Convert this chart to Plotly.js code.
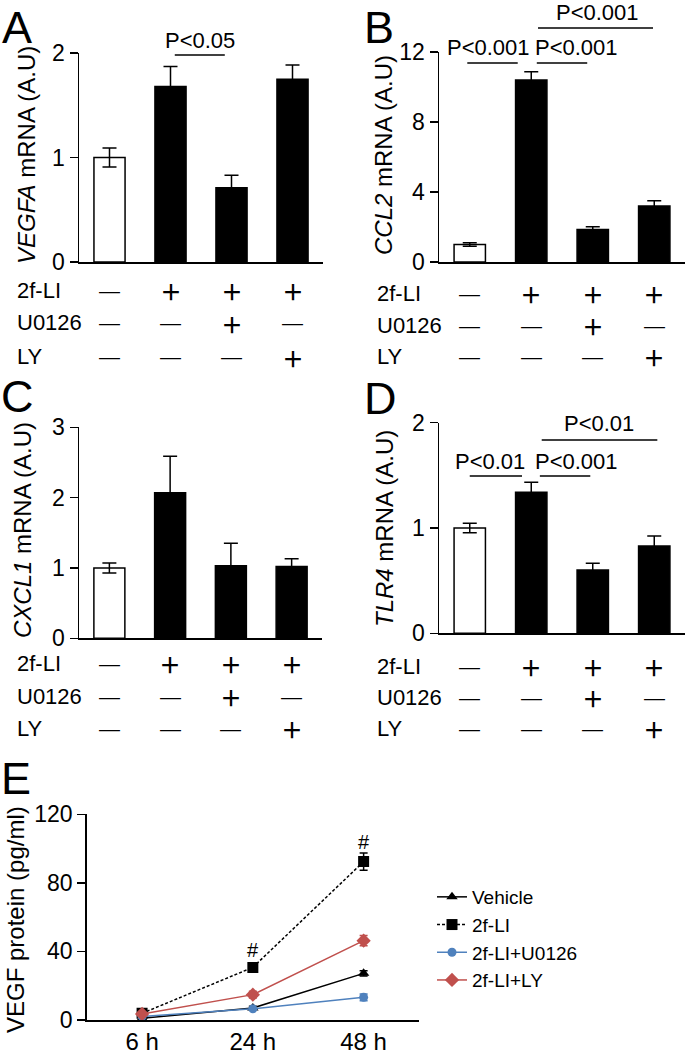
<!DOCTYPE html>
<html>
<head>
<meta charset="utf-8">
<script src="https://cdn.plot.ly/plotly-3.0.1.min.js"></script>
<style>html,body{margin:0;padding:0;background:#fff;}#chart{width:685px;height:1054px;}</style>
</head>
<body>
<div id="chart"></div>
<script>
// ---------- data ----------
const categories = ['Vehicle', '2f-LI', '2f-LI+U0126', '2f-LI+LY'];
const vegfaMean = [1.0, 1.68, 0.71, 1.75];
const vegfaErr  = [0.09, 0.19, 0.12, 0.135];
const ccl2Mean  = [1.0, 10.4, 1.85, 3.2];
const ccl2Err   = [0.1, 0.47, 0.16, 0.3];
const cxcl1Mean = [1.0, 2.07, 1.03, 1.02];
const cxcl1Err  = [0.07, 0.52, 0.32, 0.11];
const tlr4Mean  = [1.0, 1.34, 0.60, 0.83];
const tlr4Err   = [0.045, 0.095, 0.065, 0.095];
const rowNames  = ['2f-LI', 'U0126', 'LY'];
const row2fLI   = ['—', '+', '+', '+'];
const rowU0126  = ['—', '—', '+', '—'];
const rowLY     = ['—', '—', '—', '+'];
const barFill   = ['white', 'black', 'black', 'black'];

const timePoints = ['6 h', '24 h', '48 h'];
const seriesNames = ['Vehicle', '2f-LI', '2f-LI+U0126', '2f-LI+LY'];
const vehicle    = [1.0, 7.0, 27.2];
const vehicleErr = [0.5, 1.0, 1.5];
const lif        = [3.9, 30.7, 92.4];
const lifErr     = [0.8, 1.5, 5.0];
const lifU       = [2.0, 6.5, 13.2];
const lifUErr    = [0.5, 0.8, 2.0];
const lifLY      = [3.5, 14.8, 46.3];
const lifLYErr   = [0.8, 2.0, 3.0];

// ---------- helpers ----------
const W = 685, H = 1054;
const FONT = 'Arial, "Liberation Sans", sans-serif';
const CJK = '"Noto Sans CJK JP", "Noto Sans CJK SC", sans-serif';
const px = v => v / W;
const py = v => 1 - v / H;

function barTrace(mean, err, ax) {
  return {
    type: 'bar', x: categories, y: mean,
    xaxis: 'x' + ax, yaxis: 'y' + ax,
    width: 0.51, showlegend: false, hoverinfo: 'skip',
    marker: {color: barFill, line: {color: 'black', width: 1.5}},
    error_y: {type: 'data', array: err, visible: true, color: 'black', thickness: 1.5, width: 7}
  };
}

function yAx(domain, range, dtick) {
  return {
    domain: domain, range: range, dtick: dtick, tick0: 0,
    showline: true, linecolor: 'black', linewidth: 1.5,
    ticks: 'outside', ticklen: 8, tickwidth: 1.5, tickcolor: 'black',
    showgrid: false, zeroline: false, fixedrange: true,
    tickfont: {family: FONT, size: 23, color: 'black'}
  };
}
function xBarAx(domain, anchor) {
  return {
    domain: domain, anchor: anchor, type: 'category', range: [-0.5, 3.5],
    showline: true, linecolor: 'black', linewidth: 1.5,
    ticks: '', showticklabels: false, showgrid: false, zeroline: false, fixedrange: true
  };
}

const annotations = [];
const shapes = [];

function txt(text, x, y, opts) {
  annotations.push(Object.assign({
    text: text, x: x, y: y, xref: 'paper', yref: 'paper',
    showarrow: false, xanchor: 'center', yanchor: 'middle',
    font: {family: FONT, size: 22, color: 'black'}
  }, opts || {}));
}

function treatmentRows(xref, labelX, rowYs) {
  const rows = [row2fLI, rowU0126, rowLY];
  rows.forEach((signs, r) => {
    txt(rowNames[r], px(labelX), py(rowYs[r]), {xanchor: 'left', font: {family: FONT, size: 22, color: 'black'}});
    signs.forEach((s, i) => {
      const plus = s === '+';
      annotations.push({
        text: plus ? '＋' : '—', x: i, y: py(rowYs[r]), xref: xref, yref: 'paper',
        showarrow: false, xanchor: 'center', yanchor: 'middle',
        font: plus ? {family: CJK, size: 22, color: 'black', weight: 'bold'} : {family: FONT, size: 21, color: 'black'}
      });
    });
  });
}

function bracket(xref, x0, x1, yPx, label, labelX, labelYPx) {
  shapes.push({type: 'line', xref: xref, yref: 'paper', x0: x0, x1: x1, y0: py(yPx), y1: py(yPx),
    line: {color: 'black', width: 1.5}});
  annotations.push({text: label, x: labelX, y: py(labelYPx), xref: xref, yref: 'paper',
    showarrow: false, xanchor: 'center', yanchor: 'middle',
    font: {family: FONT, size: 22, color: 'black'}});
}

function yTitle(text, xPx, yPx) {
  txt(text, px(xPx), py(yPx), {textangle: -90, font: {family: FONT, size: 24, color: 'black'}});
}
function letter(text, xPx, yPx, anchor) {
  txt(text, px(xPx), yPx === 0 ? 1 : py(yPx), {xanchor: 'left', yanchor: anchor || 'middle',
    font: {family: FONT, size: 45, color: 'black'}});
}

// ---------- traces ----------
const traces = [
  barTrace(vegfaMean, vegfaErr, ''),
  barTrace(ccl2Mean, ccl2Err, '2'),
  barTrace(cxcl1Mean, cxcl1Err, '3'),
  barTrace(tlr4Mean, tlr4Err, '4')
];
traces[0].xaxis = 'x'; traces[0].yaxis = 'y';

function lineTrace(name, y, err, color, symbol, size, dash) {
  return {
    type: 'scatter', mode: 'lines+markers', name: name, x: timePoints, y: y,
    xaxis: 'x5', yaxis: 'y5', hoverinfo: 'skip',
    line: {color: color, width: 1.5, dash: dash},
    marker: {color: color, symbol: symbol, size: size},
    error_y: {type: 'data', array: err, visible: true, color: color, thickness: 1.5, width: 4}
  };
}
traces.push(lineTrace(seriesNames[0], vehicle, vehicleErr, 'black', 'triangle-up', 10, 'solid'));
traces.push(lineTrace(seriesNames[1], lif, lifErr, 'black', 'square', 11, '3px,2px'));
traces.push(lineTrace(seriesNames[2], lifU, lifUErr, '#4F81BD', 'circle', 9, 'solid'));
traces.push(lineTrace(seriesNames[3], lifLY, lifLYErr, '#C0504D', 'diamond', 11, 'solid'));

// ---------- annotations ----------
letter('A', 0, 0, 'top'); letter('B', 362, 0, 'top');
letter('C', -1, 396); letter('D', 362, 398); letter('E', -1, 778);

yTitle('<i>VEGFA</i> mRNA (A.U)', 26, 155);
yTitle('<i>CCL2</i> mRNA (A.U)', 383, 155);
yTitle('<i>CXCL1</i> mRNA (A.U)', 22, 530);
yTitle('<i>TLR4</i> mRNA (A.U)', 384, 529);
yTitle('VEGF protein (pg/ml)', 15, 920);

treatmentRows('x', 15, [290, 323, 357]);
treatmentRows('x2', 375, [293, 325, 356]);
treatmentRows('x3', 15, [663, 696, 728]);
treatmentRows('x4', 375, [666, 697, 728]);

bracket('x', 1.07, 1.89, 55, 'P&lt;0.05', 1.48, 40);
bracket('x2', -0.04, 0.78, 63, 'P&lt;0.001', 0.30, 48);
bracket('x2', 1.09, 1.91, 63, 'P&lt;0.001', 1.73, 48);
bracket('x2', 1.11, 2.98, 28, 'P&lt;0.001', 2.07, 13);
bracket('x4', 0.0, 0.85, 476, 'P&lt;0.01', 0.33, 461);
bracket('x4', 1.14, 1.96, 476, 'P&lt;0.001', 1.73, 461);
bracket('x4', 1.17, 3.05, 440, 'P&lt;0.01', 2.10, 423);

annotations.push({text: '#', x: timePoints[1], y: 41, xref: 'x5', yref: 'y5', showarrow: false,
  font: {family: FONT, size: 20, color: 'black'}});
annotations.push({text: '#', x: timePoints[2], y: 104, xref: 'x5', yref: 'y5', showarrow: false,
  font: {family: FONT, size: 20, color: 'black'}});

// ---------- layout ----------
const layout = {
  width: W, height: H,
  margin: {l: 0, r: 0, t: 0, b: 0},
  paper_bgcolor: 'white', plot_bgcolor: 'white',
  font: {family: FONT, color: 'black'},
  bargap: 0,
  xaxis: xBarAx([px(79), px(323)], 'y'),
  yaxis: yAx([py(262), py(53)], [0, 2], 1),
  xaxis2: xBarAx([px(439), 1.0], 'y2'),
  yaxis2: Object.assign(yAx([py(262), py(52)], [0, 12], 4), {anchor: 'x2'}),
  xaxis3: xBarAx([px(79), px(322)], 'y3'),
  yaxis3: Object.assign(yAx([py(638.3), py(427.3)], [0, 3], 1), {anchor: 'x3'}),
  xaxis4: xBarAx([px(439), 1.0], 'y4'),
  yaxis4: Object.assign(yAx([py(633.3), py(422.7)], [0, 2], 1), {anchor: 'x4'}),
  xaxis5: {
    domain: [px(86.7), px(419)], anchor: 'y5', type: 'category', range: [-0.5, 2.5],
    showline: true, linecolor: 'black', linewidth: 1.5, ticks: '', showgrid: false, zeroline: false,
    tickfont: {family: FONT, size: 24, color: 'black'}, fixedrange: true
  },
  yaxis5: Object.assign(yAx([py(1020), py(814.3)], [0, 120], 40), {anchor: 'x5'}),
  showlegend: true,
  legend: {
    x: px(432), y: py(878), xanchor: 'left', yanchor: 'top',
    font: {family: FONT, size: 19, color: 'black'},
    bgcolor: 'rgba(0,0,0,0)', borderwidth: 0, traceorder: 'normal'
  },
  annotations: annotations,
  shapes: shapes
};

Plotly.newPlot('chart', traces, layout, {staticPlot: true, displayModeBar: false});
</script>
</body>
</html>
